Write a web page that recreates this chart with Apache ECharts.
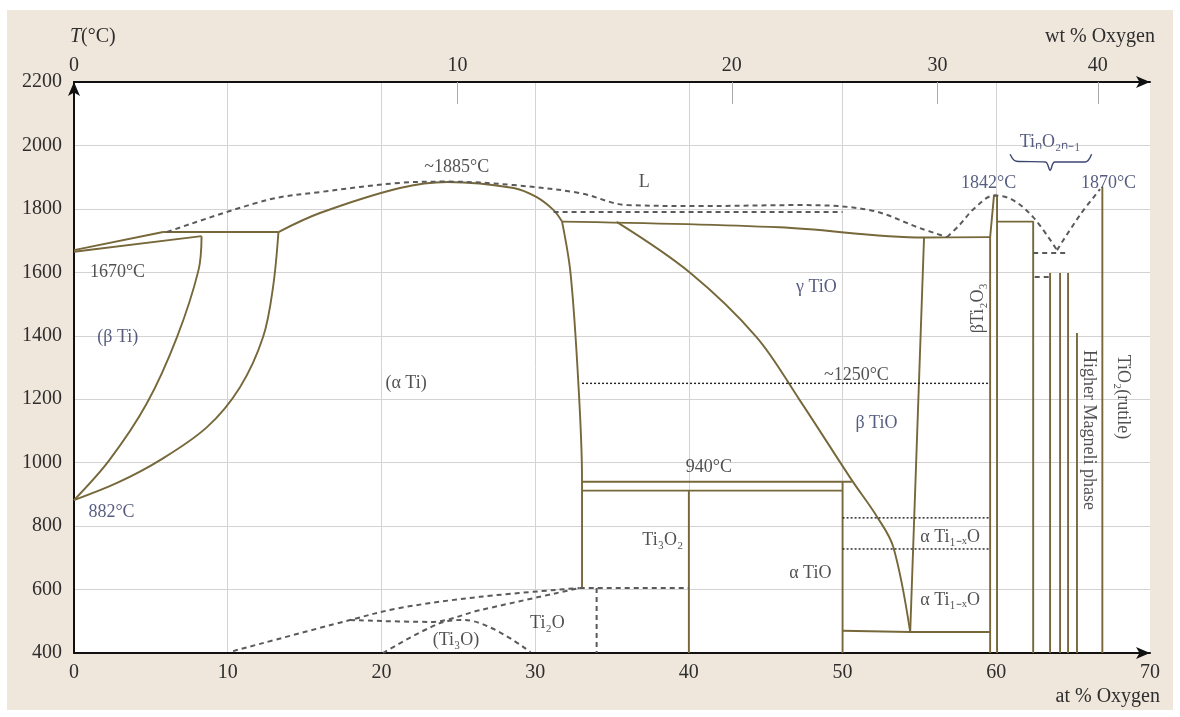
<!DOCTYPE html>
<html>
<head>
<meta charset="utf-8">
<script src="https://cdn.jsdelivr.net/npm/echarts@6/dist/echarts.min.js"></script>
<style>
html,body{margin:0;padding:0;background:#fff;}
#bg{position:absolute;left:7px;top:10px;width:1166px;height:700px;background:#efe6dc;}
#chart{position:absolute;left:0;top:0;width:1180px;height:717px;}
</style>
</head>
<body>
<div id="bg"></div>
<div id="chart"></div>
<script>
// ---------- data (at % O, T in °C) ----------
const wtTicks = [0, 10, 20, 30, 40];

// solid phase boundaries
const betaLiquidus   = [[0,1670],[5.8,1727]];
const betaSolidus    = [[0,1665],[8.3,1714]];
const peritectic     = [[5.8,1727],[13.3,1727]];
const betaTransus    = [[8.3,1714],[8.1,1607],[6.7,1396],[4.75,1188],[2.3,1008],[0,882]];
const alphaTransus   = [[13.3,1727],[12.95,1554],[12.3,1396],[10.8,1238],[8.65,1112],[5.6,1008],[2.8,936],[0,882]];
const alphaLiquidus  = [[13.3,1727],[16,1787],[21.2,1866],[24.3,1885],[28.6,1866],[30.1,1837],[31.2,1796],[31.75,1760]];
const alphaSolvus    = [[31.75,1760],[32.3,1598],[32.8,1260],[33.05,945],[33.05,605]];
const tioSolidus     = [[31.75,1760],[45.9,1742],[55.3,1710],[59.6,1711]];
const tioLeft        = [[35.3,1759],[40.1,1598],[44.4,1396],[47.2,1198],[50.6,945],[52.25,829],[53.3,734],[54.4,466]];
const tioRight       = [[55.3,1710],[54.4,466]];
const tioBottom      = [[50,470],[54.4,466],[59.6,466]];
const ti2o3          = [[59.6,400],[59.6,1711],[59.85,1842],[60.05,1842],[60.05,400]];
const ti3o5          = [[60.05,1760],[62.4,1760],[62.4,400]];
const magneliA       = [[63.5,1598],[63.5,400]];
const magneliB       = [[64.15,1598],[64.15,400]];
const magneliC       = [[64.67,1598],[64.67,400]];
const magneliD       = [[65.25,1409],[65.25,400]];
const rutile         = [[66.9,1870],[66.9,400]];
const line940        = [[33.05,940],[50.6,940]];
const line912        = [[33.05,912],[50,912]];
const ti3o2Right     = [[40,912],[40,400]];
const tioEdge        = [[50,940],[50,400]];

// dashed (uncertain) boundaries
const liquidusL      = [[6.05,1727],[12.56,1828],[16,1853],[21.2,1882],[24.3,1886],[28.6,1875],[32.9,1850],[36,1812],[40.7,1809],[47.2,1812],[51.8,1796],[55,1740],[56.8,1711]];
const liquidusTi2O3  = [[56.8,1711],[57.6,1749],[58.6,1803],[59.85,1842],[61,1830],[62.4,1774],[63.95,1670]];
const liquidusRutile = [[63.95,1670],[65.45,1781],[66.75,1862]];
const monotectic     = [[31.2,1790],[50,1790]];
const eutecticMag    = [[62.4,1661],[64.6,1661]];
const magStub        = [[62.5,1585],[63.5,1585]];
const lowDashA       = [[10.35,406],[17.96,504],[21.2,542],[26.4,577],[32.9,605]];
const lowDashA2      = [[32.9,605],[40,605]];
const lowDashB       = [[17.96,504],[23.2,498],[26.4,535],[32.9,605]];
const ti3oDome       = [[20.1,400],[23.8,494],[25.4,504],[29.7,403]];
const ti2oRight      = [[34,605],[34,400]];

// dotted transitions
const dot1250        = [[33.05,1250],[59.6,1250]];
const dot826         = [[50,826],[59.6,826]];
const dot728         = [[50,728],[59.6,728]];

// brace under TinO2n-1
const brace          = [[60.9,1972],[61.3,1950],[63.2,1948],[63.5,1922],[63.8,1948],[65.8,1948],[66.2,1972]];

// annotations: [text, x, T, rotate, dark]
const annotations = [
  ['~1885°C', 24.9, 1932, 0, 1],
  ['L', 37.1, 1885, 0, 1],
  ['1842°C', 59.5, 1882, 0, 0],
  ['1870°C', 67.3, 1882, 0, 0],
  ['TiₙO₂ₙ₋₁', 63.5, 2010, 0, 0],
  ['1670°C', 2.83, 1601, 0, 1],
  ['(β Ti)', 2.85, 1396, 0, 0],
  ['882°C', 2.44, 844, 0, 0],
  ['(α Ti)', 21.6, 1250, 0, 1],
  ['γ TiO', 48.3, 1554, 0, 0],
  ['~1250°C', 50.9, 1276, 0, 1],
  ['β TiO', 52.2, 1125, 0, 0],
  ['βTi₂O₃', 58.8, 1487, 90, 1],
  ['Higher Magneli phase', 66.0, 1103, -90, 1],
  ['TiO₂(rutile)', 68.25, 1207, -90, 1],
  ['940°C', 41.3, 986, 0, 1],
  ['Ti₃O₂', 38.3, 756, 0, 1],
  ['α TiO', 47.9, 652, 0, 1],
  ['α Ti₁₋ₓO', 57.0, 766, 0, 1],
  ['α Ti₁₋ₓO', 57.0, 567, 0, 1],
  ['Ti₂O', 30.8, 494, 0, 1],
  ['(Ti₃O)', 24.85, 441, 0, 1]
];

// ---------- helpers ----------
function wtToAt(w) {
  const o = w / 15.999, t = (100 - w) / 47.867;
  return 100 * o / (o + t);
}
const wtPos = wtTicks.map(wtToAt);

const SERIF = 'Liberation Serif';
const solidStyle  = {color:'#76683a', width:1.9, type:'solid'};
const dashStyle   = {color:'#5a5a5a', width:2, type:[5,4]};
const dotStyle    = {color:'#222', width:1.4, type:[2,2]};

function ln(data, style, smooth) {
  return {type:'line', data:data, showSymbol:false, symbol:'none', silent:true,
          smooth: smooth ? 0.35 : false, lineStyle:style, z:3, animation:false};
}

const series = [
  ln(betaLiquidus, solidStyle), ln(betaSolidus, solidStyle), ln(peritectic, solidStyle),
  ln(betaTransus, solidStyle, true), ln(alphaTransus, solidStyle, true),
  ln(alphaLiquidus, solidStyle, true), ln(alphaSolvus, solidStyle, true),
  ln(tioSolidus, solidStyle, true), ln(tioLeft, solidStyle, true), ln(tioRight, solidStyle),
  ln(tioBottom, solidStyle), ln(ti2o3, solidStyle), ln(ti3o5, solidStyle),
  ln(magneliA, solidStyle), ln(magneliB, solidStyle), ln(magneliC, solidStyle), ln(magneliD, solidStyle),
  ln(rutile, solidStyle), ln(line940, solidStyle), ln(line912, solidStyle),
  ln(ti3o2Right, solidStyle), ln(tioEdge, solidStyle),
  ln(liquidusL, dashStyle, true), ln(liquidusTi2O3, dashStyle, true), ln(liquidusRutile, dashStyle, true),
  ln(monotectic, dashStyle), ln(eutecticMag, dashStyle), ln(magStub, dashStyle),
  ln(lowDashA, dashStyle, true), ln(lowDashA2, dashStyle), ln(lowDashB, dashStyle, true),
  ln(ti3oDome, dashStyle, true), ln(ti2oRight, dashStyle),
  ln(dot1250, dotStyle), ln(dot826, dotStyle), ln(dot728, dotStyle),
  ln(brace, {color:'#3a4670', width:1.4, type:'solid'}, true),
  {
    type:'scatter', silent:true, animation:false, symbolSize:1, z:5,
    itemStyle:{color:'rgba(0,0,0,0)'},
    data: annotations.map(a => ({
      name:a[0], value:[a[1], a[2]],
      label:{rotate:a[3], color: a[4] ? '#262626' : '#2c3560'}
    })),
    label:{show:true, position:'inside', formatter:'{b}',
           fontFamily:SERIF, fontSize:18}
  }
];

const axisLbl = {fontFamily:SERIF, fontSize:20, color:'#2e2e2e'};

const option = {
  animation:false,
  grid:{left:74, right:30, top:82, bottom:64, show:true, backgroundColor:'#ffffff', borderWidth:0},
  xAxis:[
    {type:'value', position:'bottom', min:0, max:70, interval:10,
     axisLine:{show:true, lineStyle:{color:'#111', width:2}, symbol:['none','arrow'], symbolSize:[9,14]},
     axisTick:{show:false},
     axisLabel:Object.assign({margin:10, formatter:v => String(v)}, axisLbl),
     splitLine:{show:true, showMinLine:false, showMaxLine:false, lineStyle:{color:'#d3d3d3', width:1}}},
    {type:'value', position:'top', min:0, max:70,
     axisLine:{show:true, lineStyle:{color:'#111', width:2}, symbol:['none','arrow'], symbolSize:[9,14]},
     axisTick:{show:true, inside:true, length:22, customValues:wtPos.slice(1), lineStyle:{color:'#aaa'}},
     axisLabel:Object.assign({margin:6, customValues:wtPos,
       formatter:function(v){ let k=0, d=1e9; wtPos.forEach((p,i)=>{ if(Math.abs(p-v)<d){d=Math.abs(p-v);k=i;} }); return String(wtTicks[k]); }}, axisLbl),
     splitLine:{show:false}}
  ],
  yAxis:{type:'value', min:400, max:2200, interval:200,
     axisLine:{show:true, lineStyle:{color:'#111', width:2}, symbol:['none','arrow'], symbolSize:[9,14]},
     axisTick:{show:false},
     axisLabel:Object.assign({margin:12, formatter:v => String(v)}, axisLbl),
     splitLine:{show:true, showMinLine:false, showMaxLine:false, lineStyle:{color:'#d3d3d3', width:1}}},
  graphic:[
    {type:'text', left:70, top:27, style:{rich:{i:{fontStyle:'italic', fontFamily:SERIF, fontSize:20, fill:'#2e2e2e'}, n:{fontFamily:SERIF, fontSize:20, fill:'#2e2e2e'}}, text:'{i|T}{n|(°C)}'}},
    {type:'text', right:25, top:27, style:{text:'wt % Oxygen', font:'20px "Liberation Serif"', fill:'#2e2e2e'}},
    {type:'text', right:20, top:687, style:{text:'at % Oxygen', font:'20px "Liberation Serif"', fill:'#2e2e2e'}}
  ],
  series: series
};

const chart = echarts.init(document.getElementById('chart'), null, {renderer:'canvas'});
chart.setOption(option);
</script>
</body>
</html>
